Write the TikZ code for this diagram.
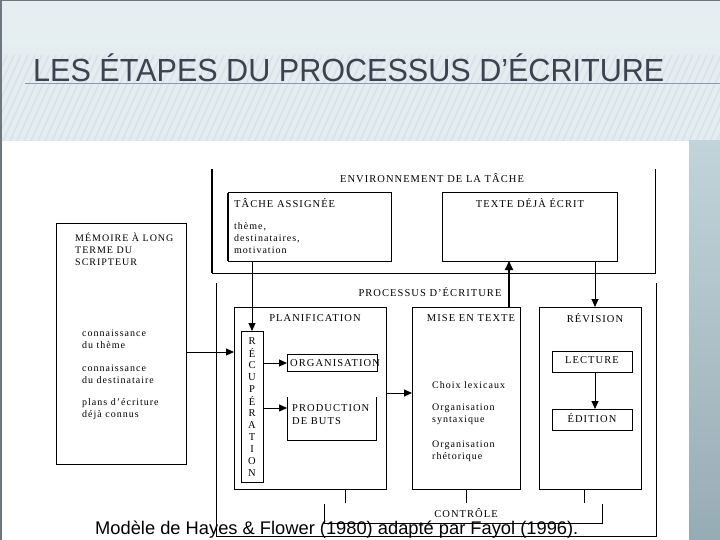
\documentclass[tikz,border=0pt]{standalone}
\usepackage{fontspec}
\setmainfont{Liberation Serif}
\newfontfamily\capfont{Liberation Serif}[LetterSpace=10]
\newfontfamily\titlefont{Liberation Sans}
\usetikzlibrary{arrows.meta,calc}
\definecolor{bgtop}{HTML}{E6EEF1}
\definecolor{bgbot}{HTML}{DCE8EC}
\definecolor{stripe}{HTML}{D6E3E8}
\definecolor{titlecol}{HTML}{3D4250}
\definecolor{rulecol}{HTML}{8A9AAA}
\definecolor{sidetop}{HTML}{C2D4DA}
\definecolor{sidebot}{HTML}{96ACB4}
\definecolor{framecol}{HTML}{6E7780}
\tikzset{
  box/.style={draw, line width=1pt, inner sep=0pt, outer sep=0pt},
  ghost/.style={inner sep=0pt, outer sep=0pt},
  lbl/.style={inner sep=0pt, font=\capfont\fontsize{10.5}{12}\selectfont},
  lblbig/.style={inner sep=0pt, font=\capfont\fontsize{10.5}{13}\selectfont},
  txt/.style={inner sep=0pt, align=left, font=\capfont\fontsize{10}{12}\selectfont},
  arr/.style={line width=1pt, -{Triangle[length=8pt,width=7pt]}},
  arrthick/.style={line width=2pt, -{Triangle[length=9pt,width=8pt]}},
  ln/.style={line width=1pt},
}
\begin{document}
\begin{tikzpicture}[x=1pt,y=-1pt]
\useasboundingbox (0,0) rectangle (720,540);
% background
\shade[top color=bgtop, bottom color=bgbot] (0,0) rectangle (720,540);
\begin{scope}
\clip (0,55) rectangle (720,143);
\foreach \i in {-40,-33,...,720} {
  \draw[stripe, line width=1.5pt] (\i,143) -- (\i+40,55);
}
\end{scope}
\fill[white] (0,141) rectangle (689,540);
\shade[top color=sidetop, bottom color=sidebot] (689,141) rectangle (720,540);
\draw[framecol, line width=1.5pt] (0.75,540) -- (0.75,0.75) -- (720,0.75);
% title
\draw[rulecol, line width=1pt] (25,84) -- (720,84);
\node[inner sep=0pt, anchor=base west, text=titlecol] (title) at (33,82)
  {\titlefont\fontsize{32}{36}\selectfont\scalebox{0.955}[1]{LES ÉTAPES DU PROCESSUS D’ÉCRITURE}};

% environment frame
\draw[line width=2pt] (212,169) -- (212,273);
\draw[ln] (212,273) -- (655,273) -- (655,169);
\node[lbl] (envlbl) at (432,178) {ENVIRONNEMENT DE LA TÂCHE};

% tache assignee
\node[box, minimum width=163pt, minimum height=68pt] (tache) at (309.5,227) {};
\draw[line width=2pt] (tache.north west) -- (tache.south west);
\node[lblbig, anchor=west] (tachelbl) at (234,203) {TÂCHE ASSIGNÉE};
\node[txt, anchor=west] (tachetxt) at (234,238) {thème,\\destinataires,\\motivation};

% texte deja ecrit
\node[box, minimum width=175pt, minimum height=68pt] (texte) at (529.5,227) {};
\node[lblbig] (textelbl) at (530,203) {TEXTE DÉJÀ ÉCRIT};

% process frame
\draw[ln] (216,283) -- (216,536) -- (656,536) -- (656,283);
\node[lbl] (proclbl) at (430,292) {PROCESSUS D’ÉCRITURE};

% memoire
\node[box, minimum width=130pt, minimum height=240pt] (memoire) at (121,344) {};
\node[txt, anchor=west] (memlbl) at (75,249) {MÉMOIRE À LONG\\TERME DU\\SCRIPTEUR};
\node[txt, anchor=west] (mem1) at (82,339.5) {connaissance\\du thème};
\node[txt, anchor=west] (mem2) at (82,374.5) {connaissance\\du destinataire};
\node[txt, anchor=west] (mem3) at (82,409.5) {plans d’écriture\\déjà connus};

% planification
\node[box, minimum width=152pt, minimum height=182pt] (plan) at (310,398) {};
\node[lbl] (planlbl) at (315,318) {PLANIFICATION};
\node[box, minimum width=22pt, minimum height=151pt] (recup) at (252,406.5) {};
\foreach \l [count=\k from 0] in {R,É,C,U,P,É,R,A,T,I,O,N} {
  \node[lbl] (r\k) at (252,341+12*\k) {\l};
}
\node[box, minimum width=90pt, minimum height=17pt] (orga) at (332,363) {};
\node[lbl, anchor=west] (orgalbl) at (290,363) {ORGANISATION};
\node[ghost, minimum width=89pt, minimum height=43pt] (prod) at (331.5,418.5) {};
\draw[ln] (prod.north west) -- (prod.south west) -- (prod.south east) -- (prod.north east);
\node[lblbig, anchor=west, align=left] (prodlbl) at (292,415) {PRODUCTION\\DE BUTS};

% mise en texte
\node[box, minimum width=108pt, minimum height=182pt] (mise) at (466,398) {};
\node[lbl] (miselbl) at (471,318) {MISE EN TEXTE};
\node[txt, anchor=west] (mise1) at (432,385) {Choix lexicaux};
\node[txt, anchor=west] (mise2) at (432,414.5) {Organisation\\syntaxique};
\node[txt, anchor=west] (mise3) at (432,451) {Organisation\\rhétorique};

% revision
\node[box, minimum width=102pt, minimum height=182pt] (revi) at (590,398) {};
\node[lbl] (revilbl) at (595,318) {RÉVISION};
\node[box, minimum width=80pt, minimum height=21pt] (lect) at (592,361.5) {};
\node[lbl] (lectlbl) at (592,360) {LECTURE};
\node[box, minimum width=80pt, minimum height=21pt] (edit) at (592,419.5) {};
\node[lbl] (editlbl) at (592,418.5) {ÉDITION};

% connectors
\draw[arr] (recup.north |- tache.south) -- (recup.north);
\draw[arrthick] ([xshift=-11pt]mise.north east) -- ([xshift=-11pt]mise.north east |- texte.south);
\draw[arr] ([xshift=5pt]revi.north |- texte.south) -- ([xshift=5pt]revi.north);
\draw[arr] (memoire.east |- 0,352) -- (plan.west |- 0,352);
\draw[arr] (recup.east |- orga.west) -- (orga.west);
\draw[arr] (recup.east |- 0,408) -- (prod.west |- 0,408);
\draw[arr] (plan.east |- 0,393) -- (mise.west |- 0,393);
\draw[arr] ([xshift=3pt]lect.south) -- ([xshift=3pt]edit.north);

% controle
\coordinate (c1) at (345,503);
\coordinate (c2) at (466,503);
\coordinate (c3) at (584,503);
\draw[ln] (plan.south -| c1) -- (c1);
\draw[ln] (mise.south -| c2) -- (c2);
\draw[ln] (revi.south -| c3) -- (c3);
\coordinate (cl) at (324,504);
\coordinate (cr) at (602,504);
\draw[ln] (cl) -- (cl |- 0,523) -- (cr |- 0,523) -- (cr);
\node[lbl] (ctrl) at (466,513) {CONTRÔLE};

% caption
\node[inner sep=0pt, anchor=base west] (caption) at (95,534)
  {\titlefont\fontsize{18.3}{21}\selectfont Modèle de Hayes \& Flower (1980) adapté par Fayol (1996).};
\end{tikzpicture}
\end{document}
